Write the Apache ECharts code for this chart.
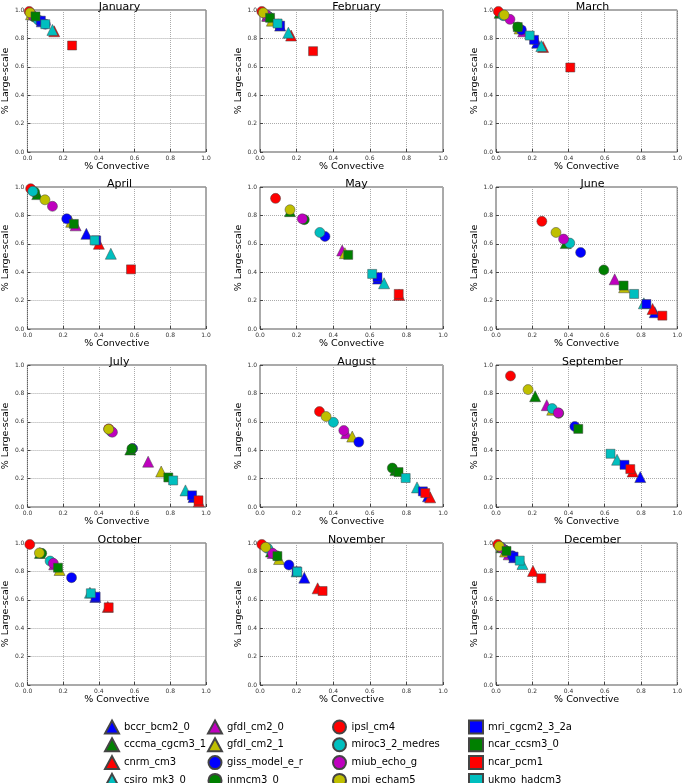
<!DOCTYPE html>
<html><head><meta charset="utf-8">
<script src="https://cdn.jsdelivr.net/npm/echarts@6/dist/echarts.min.js"></script>
<style>html,body{margin:0;padding:0;background:#fff}#c{width:685px;height:783px}</style>
</head><body><div id="c"></div>
<script>
const models = ["bccr_bcm2_0","cccma_cgcm3_1","cnrm_cm3","csiro_mk3_0","gfdl_cm2_0","gfdl_cm2_1","giss_model_e_r","inmcm3_0","ipsl_cm4","miroc3_2_medres","miub_echo_g","mpi_echam5","mri_cgcm2_3_2a","ncar_ccsm3_0","ncar_pcm1","ukmo_hadcm3"];
const months = ["January","February","March","April","May","June","July","August","September","October","November","December"];
const ticks = [0.0, 0.2, 0.4, 0.6, 0.8, 1.0];
// [% Convective, % Large-scale] per model, model order as above
const January   = [[0.08,0.92],[0.03,0.97],[0.15,0.85],[0.14,0.86],[0.03,0.97],[0.02,0.97],[0.10,0.90],[0.04,0.95],[0.01,0.99],[0.06,0.93],[0.03,0.96],[0.015,0.98],[0.075,0.925],[0.045,0.955],[0.25,0.75],[0.10,0.90]];
const February  = [[0.11,0.89],[0.04,0.96],[0.17,0.82],[0.155,0.84],[0.04,0.96],[0.065,0.925],[0.10,0.90],[0.05,0.95],[0.01,0.99],[0.04,0.96],[0.035,0.965],[0.018,0.98],[0.11,0.89],[0.055,0.945],[0.29,0.71],[0.096,0.905]];
const March     = [[0.227,0.77],[0.02,0.98],[0.26,0.74],[0.25,0.746],[0.15,0.85],[0.13,0.87],[0.14,0.86],[0.12,0.88],[0.013,0.99],[0.04,0.96],[0.077,0.934],[0.045,0.965],[0.21,0.79],[0.12,0.88],[0.41,0.595],[0.186,0.82]];
const April     = [[0.33,0.67],[0.055,0.95],[0.40,0.60],[0.467,0.53],[0.27,0.73],[0.245,0.755],[0.22,0.776],[0.04,0.965],[0.018,0.988],[0.03,0.97],[0.14,0.864],[0.098,0.91],[0.385,0.624],[0.26,0.74],[0.58,0.42],[0.376,0.624]];
const May       = [[0.645,0.355],[0.164,0.83],[0.76,0.24],[0.678,0.322],[0.449,0.553],[0.464,0.534],[0.355,0.652],[0.242,0.77],[0.085,0.92],[0.327,0.68],[0.231,0.776],[0.164,0.84],[0.642,0.365],[0.482,0.522],[0.758,0.247],[0.613,0.388]];
const June      = [[0.876,0.118],[0.385,0.605],[0.864,0.141],[0.816,0.181],[0.655,0.35],[0.707,0.294],[0.467,0.539],[0.595,0.416],[0.253,0.758],[0.407,0.605],[0.373,0.633],[0.331,0.68],[0.83,0.176],[0.704,0.306],[0.918,0.094],[0.762,0.247]];
const July      = [[0.93,0.07],[0.576,0.405],[0.96,0.04],[0.885,0.117],[0.676,0.319],[0.749,0.25],[0.589,0.412],[0.585,0.41],[0.455,0.55],[0.47,0.53],[0.476,0.527],[0.455,0.548],[0.922,0.082],[0.789,0.208],[0.958,0.047],[0.816,0.187]];
const August    = [[0.918,0.075],[0.74,0.26],[0.93,0.068],[0.858,0.138],[0.471,0.52],[0.504,0.496],[0.54,0.457],[0.723,0.274],[0.325,0.672],[0.401,0.597],[0.458,0.539],[0.361,0.637],[0.89,0.11],[0.757,0.246],[0.903,0.098],[0.796,0.204]];
const September = [[0.796,0.211],[0.216,0.78],[0.754,0.25],[0.668,0.333],[0.28,0.717],[0.31,0.685],[0.435,0.567],[0.346,0.66],[0.08,0.923],[0.31,0.693],[0.344,0.663],[0.177,0.827],[0.709,0.297],[0.454,0.55],[0.741,0.267],[0.632,0.375]];
const October   = [[0.38,0.62],[0.07,0.93],[0.45,0.55],[0.35,0.65],[0.15,0.85],[0.18,0.81],[0.247,0.756],[0.08,0.927],[0.013,0.99],[0.127,0.873],[0.145,0.857],[0.067,0.93],[0.382,0.622],[0.171,0.826],[0.455,0.547],[0.355,0.646]];
const November  = [[0.242,0.756],[0.06,0.94],[0.315,0.681],[0.20,0.80],[0.07,0.93],[0.104,0.887],[0.158,0.845],[0.09,0.91],[0.01,0.99],[0.042,0.962],[0.069,0.927],[0.031,0.97],[0.20,0.80],[0.095,0.908],[0.342,0.662],[0.204,0.798]];
const December  = [[0.10,0.90],[0.03,0.97],[0.204,0.803],[0.146,0.852],[0.07,0.92],[0.05,0.94],[0.09,0.91],[0.05,0.95],[0.01,0.99],[0.03,0.97],[0.03,0.965],[0.018,0.977],[0.097,0.904],[0.058,0.944],[0.25,0.751],[0.131,0.876]];
const monthData = [January,February,March,April,May,June,July,August,September,October,November,December];

const colors = ['#0000ff','#008000','#ff0000','#00bfbf','#bf00bf','#bfbf00','#0000ff','#008000','#ff0000','#00bfbf','#bf00bf','#bfbf00','#0000ff','#008000','#ff0000','#00bfbf'];
const shapes = ['triangle','triangle','triangle','triangle','triangle','triangle','circle','circle','circle','circle','circle','circle','rect','rect','rect','rect'];
const sizes = {triangle: 11, circle: 10, rect: 9};

const colLeft = [23, 260, 496];
const rowTop = [10, 187, 365, 543];
const W = 183, H = 142;
const FONT = 'DejaVu Sans';

const grids = [], xAxes = [], yAxes = [], titles = [], series = [];
months.forEach((m, i) => {
  const r = Math.floor(i / 3), c = i % 3;
  grids.push({left: colLeft[c], top: rowTop[r], width: W, height: H, show: true, borderColor: '#555', borderWidth: 1, backgroundColor: '#fff'});
  titles.push({text: m, left: colLeft[c] + W / 2, top: rowTop[r] - 13, textAlign: 'center',
    textStyle: {fontFamily: FONT, fontSize: 11, fontWeight: 'normal', color: '#000'}});
  const axisCommon = {
    gridIndex: i, type: 'value', min: 0, max: 1, interval: 0.2, nameLocation: 'middle',
    nameTextStyle: {fontFamily: FONT, fontSize: 9.5, color: '#000'},
    axisLine: {show: false},
    axisTick: {show: true, inside: true, length: 3, lineStyle: {color: '#444'}},
    axisLabel: {fontFamily: FONT, fontSize: 6, color: '#333', margin: 3,
      formatter: v => { const t = ticks.find(k => Math.abs(k - v) < 1e-6); return t === undefined ? '' : t.toFixed(1); }},
    splitLine: {show: true, lineStyle: {color: '#aaa', type: 'dotted', width: 1}}
  };
  xAxes.push(Object.assign({}, axisCommon, {name: '% Convective', nameGap: 10}));
  yAxes.push(Object.assign({}, axisCommon, {name: '% Large-scale', nameGap: c === 0 ? 14 : 16}));
  models.forEach((name, k) => {
    series.push({
      type: 'scatter', name: name, xAxisIndex: i, yAxisIndex: i,
      symbol: shapes[k], symbolSize: sizes[shapes[k]],
      itemStyle: {color: colors[k], borderColor: '#444', borderWidth: 0.5, opacity: 1},
      emphasis: {disabled: true}, clip: false, animation: false,
      data: [monthData[i][k]]
    });
  });
});

const legendCols = [104, 207, 332, 468];
const legends = legendCols.map((x, j) => ({
  orient: 'vertical', left: x, top: 719.5, height: 80, itemWidth: 14, itemHeight: 13, itemGap: 2.8,
  selectedMode: false, padding: 0,
  textStyle: {fontFamily: FONT, fontSize: 10, lineHeight: 13, color: '#000'},
  data: models.slice(j * 4, j * 4 + 4).map((n, q) => ({name: n, icon: shapes[j * 4 + q]}))
}));

const chart = echarts.init(document.getElementById('c'), null, {renderer: 'canvas'});
chart.setOption({
  animation: false,
  backgroundColor: '#fff',
  title: titles,
  grid: grids,
  xAxis: xAxes,
  yAxis: yAxes,
  legend: legends,
  series: series
});
</script>
</body></html>
